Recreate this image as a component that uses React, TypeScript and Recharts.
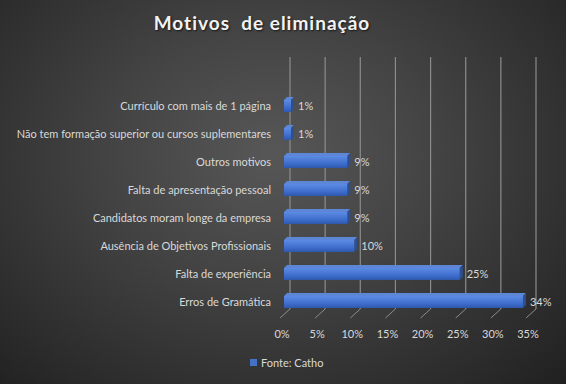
import { BarChart, Bar, XAxis, YAxis, CartesianGrid, LabelList } from "recharts";

const categories = [
  "Currículo com mais de 1 página",
  "Não tem formação superior ou cursos suplementares",
  "Outros motivos",
  "Falta de apresentação pessoal",
  "Candidatos moram longe da empresa",
  "Ausência de Objetivos Profissionais",
  "Falta de experiência",
  "Erros de Gramática",
];
const percentValues = [1, 1, 9, 9, 9, 10, 25, 34];
const xTicks = [0, 5, 10, 15, 20, 25, 30, 35];
const seriesName = "Fonte: Catho";

const data = categories.map((name, i) => ({ name, value: percentValues[i] }));

const FONT = "Lato, 'Open Sans', sans-serif";
const DEPTH = 3;

function Bar3D(props: any) {
  const { x, y, width, height } = props;
  if (width <= 0) return null;
  const d = DEPTH;
  return (
    <g>
      <path
        d={`M${x},${y} L${x + d},${y - d} L${x + width + d},${y - d} L${x + width},${y} Z`}
        fill="#5d86d6"
      />
      <path
        d={`M${x + width},${y} L${x + width + d},${y - d} L${x + width + d},${y + height - d} L${x + width},${y + height} Z`}
        fill="#2c4f96"
      />
      <rect x={x} y={y} width={width} height={height} fill="url(#barFront)" />
    </g>
  );
}

function CategoryTick(props: any) {
  const { x, y, payload } = props;
  return (
    <text x={x - 5} y={y} dy={4} textAnchor="end" fill="#d9d9d9" fontSize={11} fontFamily={FONT}>
      {payload.value}
    </text>
  );
}

function PercentTick(props: any) {
  const { x, y, payload } = props;
  return (
    <text x={x - 2} y={y} dy={14} textAnchor="middle" fill="#d9d9d9" fontSize={11} fontFamily={FONT}>
      {`${payload.value}%`}
    </text>
  );
}

// back wall lines plus the little floor diagonals of the 3D look
function GridLine(props: any) {
  const { x1, y2, index } = props;
  const bx = x1 + 6;
  return (
    <g key={`grid-${index}`}>
      <line x1={bx} y1={57} x2={bx} y2={y2 - 7} stroke="#8c8c8c" strokeWidth={1.2} />
      <line x1={x1 - 4} y1={y2 + 2} x2={bx} y2={y2 - 7} stroke="#8c8c8c" strokeWidth={1} />
    </g>
  );
}

export default function App() {
  return (
    <div
      style={{
        position: "absolute",
        left: 0,
        top: 0,
        width: 566,
        height: 384,
        background: "radial-gradient(ellipse at 48% 40%, #575757 0%, #434343 40%, #2c2c2c 80%, #202020 100%)",
        overflow: "hidden",
      }}
    >
      <div
        style={{
          position: "absolute",
          left: 0,
          width: 524,
          top: 11,
          textAlign: "center",
          color: "#f2f2f2",
          fontFamily: FONT,
          fontWeight: 700,
          fontSize: 19,
          letterSpacing: 1,
          whiteSpace: "pre",
          textShadow: "1px 1px 2px rgba(0,0,0,0.7)",
        }}
      >
        {"Motivos  de eliminação"}
      </div>
      <BarChart
        width={566}
        height={384}
        data={data}
        layout="vertical"
        margin={{ top: 92, right: 36, bottom: 38, left: 0 }}
        barSize={12}
      >
        <defs>
          <linearGradient id="barFront" x1="0" y1="0" x2="0" y2="1">
            <stop offset="0%" stopColor="#5b8be3" />
            <stop offset="60%" stopColor="#3f6fcd" />
            <stop offset="100%" stopColor="#2e58ad" />
          </linearGradient>
        </defs>
        <CartesianGrid horizontal={false} vertical={GridLine} />
        <XAxis
          type="number"
          domain={[0, 35]}
          ticks={xTicks}
          axisLine={false}
          tickLine={false}
          height={30}
          tick={<PercentTick />}
          interval={0}
        />
        <YAxis
          type="category"
          dataKey="name"
          width={284}
          axisLine={false}
          tickLine={false}
          tick={<CategoryTick />}
          interval={0}
        />
        <Bar dataKey="value" name={seriesName} shape={<Bar3D />} isAnimationActive={false}>
          <LabelList
            dataKey="value"
            position="right"
            offset={7}
            formatter={(v: any) => `${v}%`}
            fill="#d9d9d9"
            fontSize={11}
            fontFamily={FONT}
          />
        </Bar>
      </BarChart>
      <div
        style={{
          position: "absolute",
          left: 250,
          top: 356,
          display: "flex",
          alignItems: "center",
          color: "#d9d9d9",
          fontFamily: FONT,
          fontSize: 11,
        }}
      >
        <span style={{ width: 7, height: 7, background: "#4472c4", marginRight: 4, display: "inline-block" }} />
        {seriesName}
      </div>
    </div>
  );
}
